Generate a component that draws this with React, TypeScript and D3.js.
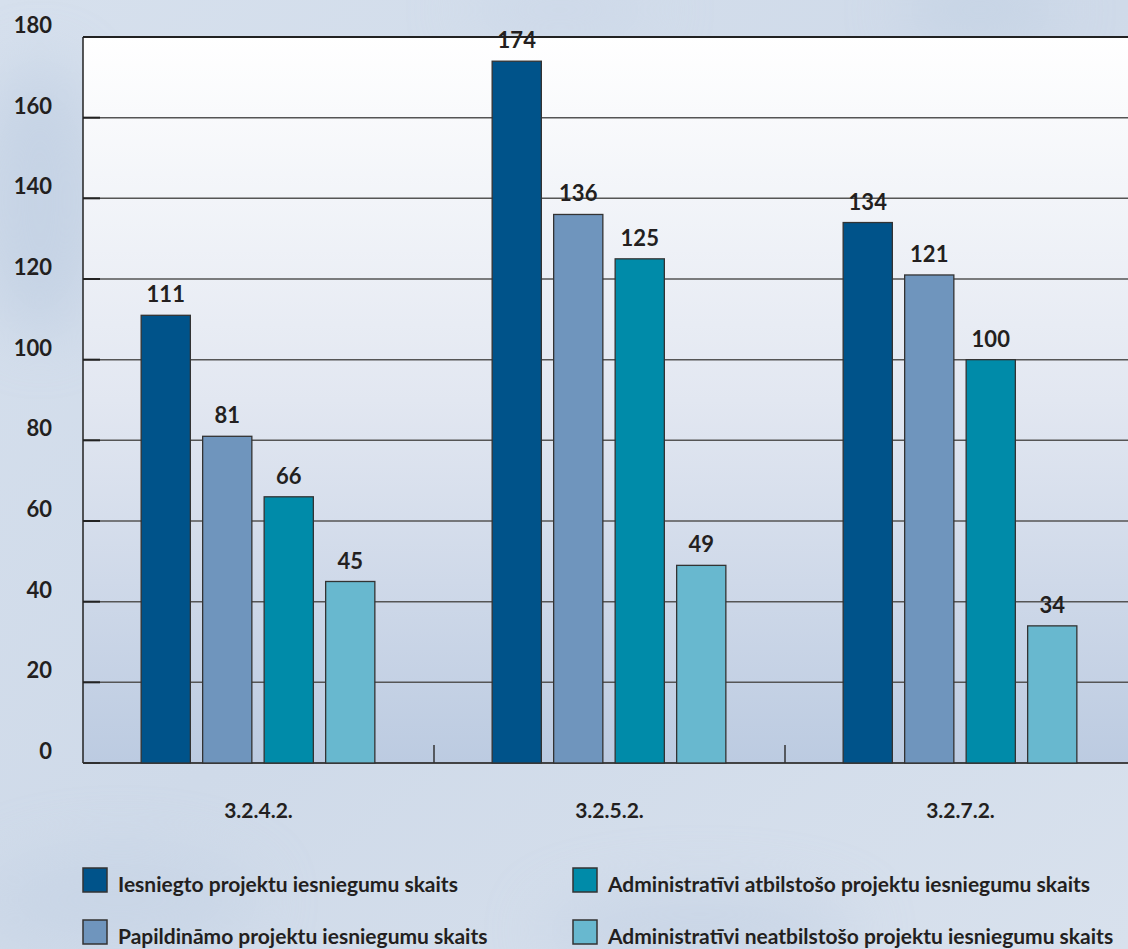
import React, { useEffect } from "react";
import * as d3 from "d3";

const categories = ["3.2.4.2.", "3.2.5.2.", "3.2.7.2."];
const seriesNames = [
  "Iesniegto projektu iesniegumu skaits",
  "Papildināmo projektu iesniegumu skaits",
  "Administratīvi atbilstošo projektu iesniegumu skaits",
  "Administratīvi neatbilstošo projektu iesniegumu skaits",
];
const seriesColors = ["#00538a", "#6f95bd", "#008ba9", "#68b8cf"];
const iesniegto = [111, 174, 134];
const papildinamo = [81, 136, 121];
const atbilstoso = [66, 125, 100];
const neatbilstoso = [45, 49, 34];
const yTicks = [0, 20, 40, 60, 80, 100, 120, 140, 160, 180];

const W = 1128;
const H = 949;
const FONT = "Lato, 'Open Sans', sans-serif";
const TXT = "#231f20";

export default function App() {
  useEffect(() => {
    document.body.style.margin = "0";
  }, []);

  const values = [iesniegto, papildinamo, atbilstoso, neatbilstoso];
  const left = 83;
  const top = 37;
  const bottom = 763;
  const y = d3.scaleLinear().domain([0, 180]).range([bottom, top]);
  const x0 = d3.scaleBand<string>().domain(categories).range([left, left + 351 * 3]);
  const x1 = d3
    .scaleBand<number>()
    .domain(d3.range(seriesNames.length))
    .range([52, 298])
    .paddingInner(0.2)
    .paddingOuter(0.1);

  const legendPos = [
    { x: 83, y: 868 },
    { x: 83, y: 920 },
    { x: 573, y: 868 },
    { x: 573, y: 920 },
  ];

  return (
    <svg width={W} height={H} style={{ display: "block" }} fontFamily={FONT}>
      <defs>
        <linearGradient id="bg" x1="0" y1="0" x2="1" y2="1">
          <stop offset="0" stopColor="#d6e0ed" />
          <stop offset="0.5" stopColor="#cfdae9" />
          <stop offset="1" stopColor="#d8e1ed" />
        </linearGradient>
        <linearGradient id="plot" x1="0" y1="0" x2="0" y2="1">
          <stop offset="0" stopColor="#ffffff" />
          <stop offset="0.5" stopColor="#e2e7f1" />
          <stop offset="1" stopColor="#bccbe1" />
        </linearGradient>
        <filter id="blur" x="-50%" y="-50%" width="200%" height="200%">
          <feGaussianBlur stdDeviation="30" />
        </filter>
      </defs>
      <rect x={0} y={0} width={W} height={H} fill="url(#bg)" />
      <g filter="url(#blur)" opacity={0.5}>
        <ellipse cx={40} cy={200} rx={60} ry={140} fill="#b7c8de" />
        <ellipse cx={120} cy={900} rx={140} ry={50} fill="#c3d1e4" />
        <ellipse cx={700} cy={930} rx={160} ry={40} fill="#bfcee2" />
        <ellipse cx={980} cy={10} rx={80} ry={30} fill="#b9cadf" />
        <ellipse cx={560} cy={10} rx={100} ry={25} fill="#c6d3e6" />
      </g>
      <rect x={left} y={top} width={W - left} height={bottom - top} fill="url(#plot)" />

      {/* gridlines */}
      {yTicks.map((t) => (
        <line key={"g" + t} x1={left} x2={W} y1={y(t)} y2={y(t)} stroke="#555" strokeWidth={1.5} />
      ))}
      {/* y ticks */}
      {yTicks.map((t) => (
        <line key={"t" + t} x1={left} x2={100} y1={y(t)} y2={y(t)} stroke="#222" strokeWidth={2} />
      ))}
      <line x1={left} x2={W} y1={top} y2={top} stroke="#222" strokeWidth={2} />
      <line x1={left} x2={left} y1={top} y2={bottom} stroke="#222" strokeWidth={1.5} />
      <line x1={left} x2={W} y1={bottom} y2={bottom} stroke="#333" strokeWidth={1.5} />
      {categories.slice(1).map((c) => (
        <line key={"ct" + c} x1={x0(c)!} x2={x0(c)!} y1={bottom} y2={bottom - 18} stroke="#333" strokeWidth={1.5} />
      ))}

      {/* y labels */}
      {yTicks.map((t) => (
        <text key={"yl" + t} x={52} y={y(t) - 4} textAnchor="end" fontSize={22} fontWeight={700} fill={TXT}>
          {t}
        </text>
      ))}

      {/* bars */}
      {categories.map((c, ci) => (
        <g key={c} transform={`translate(${x0(c)},0)`}>
          {values.map((vals, si) => (
            <g key={si}>
              <rect
                x={x1(si)!}
                y={y(vals[ci])}
                width={x1.bandwidth()}
                height={bottom - y(vals[ci])}
                fill={seriesColors[si]}
                stroke="#333"
                strokeWidth={1.3}
              />
              <text
                x={x1(si)! + x1.bandwidth() / 2}
                y={y(vals[ci]) - 13}
                textAnchor="middle"
                fontSize={22}
                fontWeight={700}
                fill={TXT}
              >
                {vals[ci]}
              </text>
            </g>
          ))}
        </g>
      ))}

      {/* category labels */}
      {categories.map((c) => (
        <text key={"cl" + c} x={x0(c)! + x0.bandwidth() / 2} y={818} textAnchor="middle" fontSize={21} fontWeight={700} fill={TXT}>
          {c}
        </text>
      ))}

      {/* legend */}
      {seriesNames.map((n, i) => (
        <g key={n}>
          <rect x={legendPos[i].x} y={legendPos[i].y} width={24} height={24} fill={seriesColors[i]} stroke="#333" strokeWidth={1.5} />
          <text x={legendPos[i].x + 35} y={legendPos[i].y + 24} fontSize={21} fontWeight={700} fill={TXT}>
            {n}
          </text>
        </g>
      ))}
    </svg>
  );
}
